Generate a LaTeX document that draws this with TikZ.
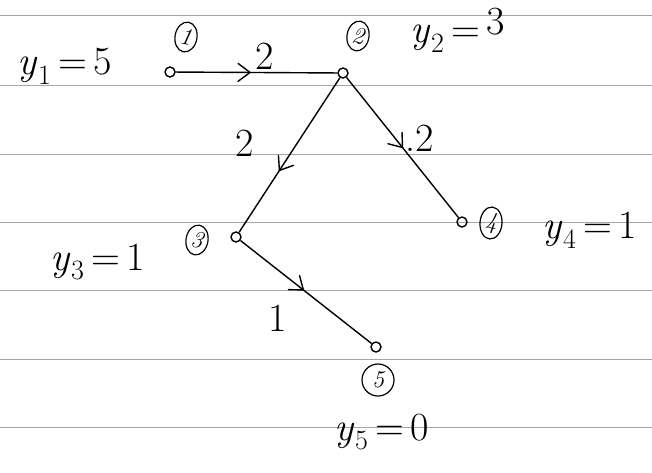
\documentclass[tikz,border=0pt]{standalone}
\usetikzlibrary{shapes.geometric,decorations.markings}
\newcommand{\yv}[2]{\textit{y}\textsubscript{#1}\,=\,#2}
\begin{document}
\begin{tikzpicture}[x=1pt,y=-1pt,
  rule/.style={gray!70,line width=0.6pt},
  vert/.style={circle,draw,line width=1.4pt,minimum size=10pt,inner sep=0pt},
  tag/.style={ellipse,draw,line width=1.2pt,inner sep=1pt,minimum width=22pt,minimum height=30pt,font=\fontsize{24}{26}\selectfont\itshape},
  val/.style={font=\fontsize{40}{44}\selectfont},
  wlab/.style={font=\fontsize{40}{44}\selectfont},
  edge/.style={line width=1.4pt,postaction={decorate},
    decoration={markings,mark=at position #1 with {\draw[line width=1.4pt,line join=round,line cap=round] (-12pt,-9pt) -- (0pt,0pt) -- (-12pt,9pt);}}},
  edge/.default=0.5]
\useasboundingbox (0,0) rectangle (652,472);
\fill[white] (0,0) rectangle (652,472);
\foreach \yy in {15,85,154,222,290,359,427}
  \draw[rule] (0,\yy) -- (652,\yy);
% vertices
\node[vert] (n1) at (170,72) {};
\node[vert] (n2) at (343,73) {};
\node[vert] (n3) at (236,237) {};
\node[vert] (n4) at (462,222) {};
\node[vert] (n5) at (376,347) {};
% tags
\node[tag,rotate=-10] (t1) at (186,37) {1};
\node[tag,rotate=-10] (t2) at (358,36) {2};
\node[tag,rotate=-10] (t3) at (197,240) {3};
\node[tag,rotate=-5] (t4) at (491,223) {4};
\node[tag,minimum width=32pt,minimum height=32pt] (t5) at (378,380) {5};
% values
\node[val] (v1) at (65,66) {\yv{1}{5}};
\node[val] (v2) at (458,30) {\yv{2}{\raisebox{8pt}{3}}};
\node[val] (v3) at (98,262) {\yv{3}{1}};
\node[val] (v4) at (590,230) {\yv{4}{1}};
\node[val] (v5) at (382,432) {\yv{5}{0}};
% edges
\draw[edge=0.46] (n1) -- (n2);
\draw[edge=0.6] (n2) -- (n3);
\draw[edge=0.5] (n2) -- (n4);
\draw[edge=0.48] (n3) -- (n5);
% weights
\node[wlab] (w12) at (265,56) {2};
\node[wlab] (w23) at (245,143) {2};
\node[wlab] (w24) at (420,138) {.2};
\node[wlab] (w35) at (278,318) {1};
\end{tikzpicture}
\end{document}
